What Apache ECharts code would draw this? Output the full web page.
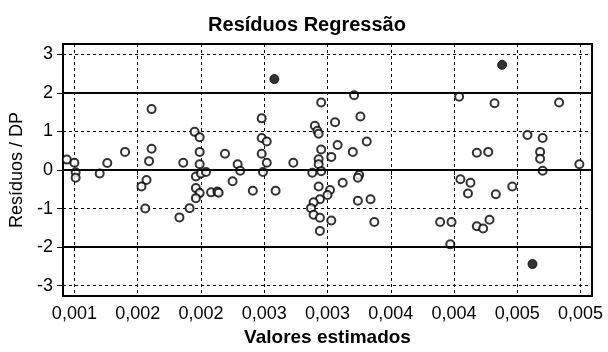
<!DOCTYPE html>
<html>
<head>
<meta charset="utf-8">
<script src="https://cdn.jsdelivr.net/npm/echarts@6/dist/echarts.min.js"></script>
<style>
  html, body { margin: 0; padding: 0; background: #fff; }
  #chart { width: 608px; height: 352px; }
</style>
</head>
<body>
<div id="chart"></div>
<script>
// valores estimados x resíduos padronizados (pontos abertos)
var residPoints = [
  [0.00094, 0.27], [0.00100, 0.19], [0.00101, -0.06], [0.00101, -0.20],
  [0.00120, -0.09], [0.00126, 0.18], [0.00140, 0.47],
  [0.00161, 1.58], [0.00161, 0.55], [0.00159, 0.23], [0.00157, -0.26],
  [0.00153, -0.43], [0.00156, -1.00],
  [0.00183, -1.23], [0.00191, -0.99], [0.00186, 0.19],
  [0.00195, 0.99], [0.00199, 0.85], [0.00199, 0.47], [0.00199, 0.15],
  [0.00196, -0.17], [0.00200, -0.09], [0.00204, -0.05], [0.00196, -0.47],
  [0.00199, -0.60], [0.00196, -0.73], [0.00208, -0.58], [0.00213, -0.56],
  [0.00214, -0.59], [0.00219, 0.42], [0.00225, -0.29], [0.00229, 0.15],
  [0.00231, -0.02],
  [0.00241, -0.54], [0.00248, 1.34], [0.00248, 0.83], [0.00252, 0.74],
  [0.00248, 0.42], [0.00252, 0.19], [0.00249, -0.05], [0.00259, -0.54],
  [0.00273, 0.19],
  [0.00295, 1.75], [0.00290, 1.15], [0.00292, 1.02], [0.00293, 0.94],
  [0.00306, 1.24], [0.00326, 1.39], [0.00321, 1.94], [0.00308, 0.65],
  [0.00331, 0.74], [0.00320, 0.47], [0.00295, 0.53], [0.00303, 0.34],
  [0.00293, 0.28], [0.00293, 0.15], [0.00295, -0.03], [0.00288, -0.07],
  [0.00325, -0.13], [0.00324, -0.20], [0.00293, -0.43], [0.00302, -0.52],
  [0.00300, -0.65], [0.00294, -0.76], [0.00289, -0.84], [0.00287, -0.99],
  [0.00289, -1.16], [0.00294, -1.24], [0.00303, -1.31], [0.00294, -1.58],
  [0.00312, -0.33], [0.00324, -0.80], [0.00334, -0.76], [0.00337, -1.35],
  [0.00404, 1.90], [0.00432, 1.73], [0.00483, 1.75],
  [0.00458, 0.91], [0.00470, 0.83], [0.00468, 0.47], [0.00468, 0.29],
  [0.00470, -0.02], [0.00499, 0.15], [0.00418, 0.45], [0.00427, 0.47],
  [0.00405, -0.24], [0.00413, -0.33], [0.00411, -0.61], [0.00433, -0.63],
  [0.00446, -0.43], [0.00389, -1.35], [0.00398, -1.35], [0.00418, -1.46],
  [0.00423, -1.52], [0.00428, -1.29], [0.00397, -1.93]
];
// pontos fora de +-2 DP (cheios)
var outlierPoints = [
  [0.00258, 2.36], [0.00438, 2.73], [0.00462, -2.44]
];
var xTicks = [0.0010, 0.0015, 0.0020, 0.0025, 0.0030, 0.0035, 0.0040, 0.0045, 0.0050];
var xTickLabels = ['0,001', '0,002', '0,002', '0,003', '0,003', '0,004', '0,004', '0,005', '0,005'];
var yTicks = [-3, -2, -1, 0, 1, 2, 3];
var limitLines = [2, 0, -2];

var myChart = echarts.init(document.getElementById('chart'));

var font = 'Liberation Sans, Arial, sans-serif';
var dotted = { color: '#000', width: 1, type: [3, 3] };

var option = {
  backgroundColor: '#fff',
  animation: false,
  title: {
    text: 'Resíduos Regressão',
    left: 302,
    top: 10,
    textAlign: 'center',
    textStyle: { fontFamily: font, fontSize: 20, fontWeight: 'bold', color: '#000' }
  },
  grid: {
    left: 63, right: 16, top: 44, bottom: 53,
    show: true, borderColor: '#000', borderWidth: 2, backgroundColor: 'transparent'
  },
  xAxis: {
    type: 'value',
    min: 0.00091,
    max: 0.00509,
    name: 'Valores estimados',
    nameLocation: 'middle',
    nameGap: 32,
    nameTextStyle: { fontFamily: font, fontSize: 19, fontWeight: 'bold', color: '#000' },
    axisLine: { lineStyle: { color: '#000', width: 2 } },
    axisTick: { show: true, length: 5, lineStyle: { color: '#000', width: 1 }, customValues: xTicks },
    axisLabel: {
      customValues: xTicks,
      margin: 9,
      fontFamily: font, fontSize: 18, color: '#000',
      formatter: function (v) {
        var best = 0;
        for (var i = 1; i < xTicks.length; i++) {
          if (Math.abs(xTicks[i] - v) < Math.abs(xTicks[best] - v)) best = i;
        }
        return xTickLabels[best];
      }
    },
    splitLine: { show: true, lineStyle: dotted }
  },
  yAxis: {
    type: 'value',
    min: -3.27,
    max: 3.27,
    name: 'Resíduos / DP',
    nameLocation: 'middle',
    nameGap: 37,
    nameTextStyle: { fontFamily: font, fontSize: 18, color: '#000' },
    axisLine: { show: true, lineStyle: { color: '#000', width: 2 } },
    axisTick: { show: true, length: 6, lineStyle: { color: '#000', width: 1 }, customValues: yTicks },
    axisLabel: { customValues: yTicks, margin: 10, fontFamily: font, fontSize: 18, color: '#000' },
    splitLine: { show: true, lineStyle: dotted }
  },
  series: [
    {
      type: 'scatter',
      data: residPoints,
      symbol: 'circle',
      symbolSize: 8,
      itemStyle: { color: '#fff', borderColor: '#000', borderWidth: 2 },
      markLine: {
        silent: true,
        symbol: 'none',
        label: { show: false },
        lineStyle: { color: '#000', width: 2, type: 'solid' },
        data: limitLines.map(function (v) { return { yAxis: v }; })
      },
      z: 3
    },
    {
      type: 'scatter',
      data: outlierPoints,
      symbol: 'circle',
      symbolSize: 9,
      itemStyle: { color: '#000', borderColor: '#000', borderWidth: 1 },
      z: 3
    }
  ]
};

myChart.setOption(option);
</script>
</body>
</html>
